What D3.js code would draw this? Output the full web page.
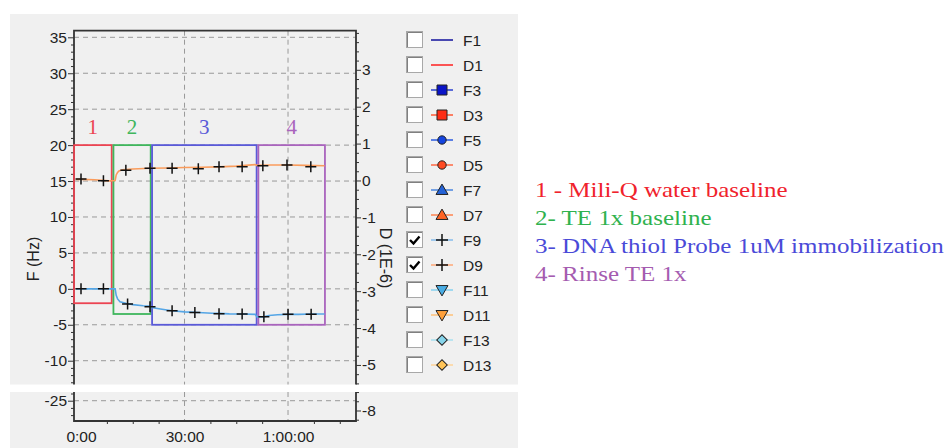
<!DOCTYPE html>
<html>
<head>
<meta charset="utf-8">
<script src="https://cdn.jsdelivr.net/npm/d3@7/dist/d3.min.js"></script>
<style>
  body { margin: 0; background: #fff; }
  svg { display: block; font-family: "Liberation Sans", Arial, sans-serif; }
</style>
</head>
<body>
<svg id="chart" width="949" height="448"></svg>
<script>
// ---- data (time in minutes) ----
const f9Times  = [-1.5, 0, 5, 9.9, 10.2, 10.6, 11.3, 13, 15, 18, 20, 20.5, 23, 26.4, 30, 34, 38, 40, 43, 46.7, 50.5, 51, 53, 54.5, 57, 60, 63, 66.7, 70.6];
const f9Values = [0, 0, 0, 0, -0.9, -1.4, -1.8, -2.0, -2.2, -2.35, -2.4, -2.6, -2.8, -3.05, -3.2, -3.3, -3.4, -3.42, -3.48, -3.5, -3.55, -3.9, -3.9, -3.7, -3.6, -3.55, -3.55, -3.5, -3.5];

const d9Times  = [-1.5, 0, 4, 8, 9.9, 10.2, 10.6, 11, 12, 15, 20, 25, 30, 35, 40, 45, 50.4, 51, 55, 60, 65, 70.6];
const d9Values = [0.03, 0.03, 0.02, -0.01, 0.0, 0.15, 0.22, 0.26, 0.29, 0.31, 0.33, 0.34, 0.35, 0.36, 0.37, 0.39, 0.43, 0.41, 0.42, 0.42, 0.41, 0.4];

const f9MarkTimes  = [0, 6.5, 13.5, 20, 26.4, 33, 40, 46.7, 53, 60, 66.7];
const f9MarkValues = [0, 0, -2.1, -2.5, -3.05, -3.3, -3.45, -3.5, -3.9, -3.55, -3.55];
const d9MarkTimes  = [0, 6.5, 13, 20, 26.4, 34, 40, 46.7, 52.7, 59.7, 66.6];
const d9MarkValues = [0.04, -0.01, 0.28, 0.33, 0.33, 0.32, 0.37, 0.37, 0.4, 0.42, 0.37];

// measurement steps (boxes)
const regionStart  = [-2.03, 9.4, 20.6, 51.4];
const regionEnd    = [8.9, 20.2, 50.9, 70.7];
const regionTop    = [20, 20, 20, 20];
const regionBottom = [-2, -3.5, -5, -5];
const regionLabels = ['1', '2', '3', '4'];
const regionColors = ['#ec4452', '#3fb65c', '#5a5ad8', '#a964bd'];

const noteTexts = ['1 - Mili-Q water baseline', '2- TE 1x baseline',
                   '3- DNA thiol Probe 1uM immobilization', '4- Rinse TE 1x'];
const noteColors = ['#f0222c', '#2fb24e', '#4a4ad8', '#a55cb0'];

const legendNames   = ['F1', 'D1', 'F3', 'D3', 'F5', 'D5', 'F7', 'D7', 'F9', 'D9', 'F11', 'D11', 'F13', 'D13'];
const legendChecked = [false, false, false, false, false, false, false, false, true, true, false, false, false, false];
const legendShapes  = ['none', 'none', 'square', 'square', 'circle', 'circle', 'tri', 'tri', 'plus', 'plus', 'tridown', 'tridown', 'diamond', 'diamond'];
const legendLine    = ['#10109c', '#ff2020', '#2a40d0', '#ff5a36', '#2a5ae0', '#ff6a44', '#4a86e0', '#ff8450', '#86bcec', '#ffa878', '#86d2f0', '#ffc27a', '#a8e0f0', '#ffd49a'];
const legendFill    = ['none', 'none', '#0a14c8', '#ff2c14', '#1444e0', '#ff4a22', '#2462d6', '#ff6424', 'none', 'none', '#48ace4', '#ffa03a', '#86d4ea', '#ffc458'];

const xTickValues = [0, 30, 60];
const xTickLabels = ['0:00', '30:00', '1:00:00'];
const fTicksTop = [35, 30, 25, 20, 15, 10, 5, 0, -5, -10];
const fTicksBottom = [-25];
const dTicksTop = [3, 2, 1, 0, -1, -2, -3, -4, -5];
const dTicksBottom = [-8];

// ---- layout ----
const svg = d3.select('#chart');
const left = 74, right = 356;
const top1 = 30.7, bot1 = 384.5;   // upper panel (cut at bottom)
const top2 = 392, bot2 = 421;      // lower panel (cut at top)
const tickFont = '"Liberation Sans", Arial, sans-serif';

const x = d3.scaleLinear().domain([-2.03, 79.7]).range([left, right]);
const yTop = d3.scaleLinear().domain([-13.31, 35.92]).range([bot1, top1]);
const dTop = d3.scaleLinear().domain([-5.53, 4.06]).range([bot1, top1]);
const yBot = d3.scaleLinear().domain([-27.82, -23.79]).range([bot2, top2]);
const dBot = d3.scaleLinear().domain([-8.285, -7.499]).range([bot2, top2]);

// grey panels
svg.append('rect').attr('x', 10).attr('y', 14).attr('width', 508).attr('height', bot1 - 14).attr('fill', '#f0f0f0');
svg.append('rect').attr('x', 10).attr('y', top2).attr('width', 508).attr('height', 448 - top2).attr('fill', '#f0f0f0');

function panel(yF, yD, fMajors, dMajors, y0, y1) {
  const g = svg.append('g');
  // grid
  g.selectAll('line.hg').data(fMajors).join('line')
    .attr('x1', left).attr('x2', right)
    .attr('y1', d => yF(d)).attr('y2', d => yF(d))
    .attr('stroke', '#999').attr('stroke-dasharray', '5,4');
  g.selectAll('line.vg').data(xTickValues.filter(d => d > 0)).join('line')
    .attr('x1', d => x(d)).attr('x2', d => x(d))
    .attr('y1', y0).attr('y2', y1)
    .attr('stroke', '#999').attr('stroke-dasharray', '5,4');

  const fd = yF.domain(), dd = yD.domain();
  const fMinor = d3.range(Math.ceil(fd[0]), fd[1], 1).filter(v => !fMajors.includes(v));
  const dMinor = d3.range(Math.ceil(dd[0] * 4) / 4, dd[1], 0.25).filter(v => !dMajors.includes(v));

  const ax = (sel) => sel.call(s => s.select('.domain').remove())
    .call(s => s.selectAll('line').attr('stroke', '#333'))
    .call(s => s.selectAll('text').attr('fill', '#222').attr('font-size', '15.5px').attr('font-family', tickFont));

  g.append('g').attr('transform', `translate(${left},0)`)
    .call(d3.axisLeft(yF).tickValues(fMinor).tickSize(3).tickFormat('')).call(ax);
  g.append('g').attr('transform', `translate(${left},0)`)
    .call(d3.axisLeft(yF).tickValues(fMajors).tickSize(6).tickPadding(1).tickFormat(d => String(d))).call(ax);
  g.append('g').attr('transform', `translate(${right},0)`)
    .call(d3.axisRight(yD).tickValues(dMinor).tickSize(3).tickFormat('')).call(ax);
  g.append('g').attr('transform', `translate(${right},0)`)
    .call(d3.axisRight(yD).tickValues(dMajors).tickSize(5).tickPadding(1).tickFormat(d => String(d))).call(ax);
  return g;
}

panel(yTop, dTop, fTicksTop, dTicksTop, top1, bot1);
panel(yBot, dBot, fTicksBottom, dTicksBottom, top2, bot2);

// x axis
const minorX = d3.range(7.5, 79, 7.5).filter(v => !xTickValues.includes(v));
svg.append('g').attr('transform', `translate(0,${bot2})`)
  .call(d3.axisBottom(x).tickValues(minorX).tickSize(3).tickFormat(''))
  .call(s => s.select('.domain').remove())
  .call(s => s.selectAll('line').attr('stroke', '#333'));
svg.append('g').attr('transform', `translate(0,${bot2})`)
  .call(d3.axisBottom(x).tickValues(xTickValues).tickSize(0).tickPadding(10)
    .tickFormat((d, i) => xTickLabels[i]))
  .call(s => s.select('.domain').remove())
  .call(s => s.selectAll('text').attr('fill', '#222').attr('font-size', '15.5px').attr('font-family', tickFont));

// frames
svg.append('path').attr('d', `M${left},${bot1}V${top1}H${right}V${bot1}`)
  .attr('fill', 'none').attr('stroke', '#333').attr('stroke-width', 1.8);
svg.append('path').attr('d', `M${left},${top2}V${bot2}H${right}V${top2}`)
  .attr('fill', 'none').attr('stroke', '#333').attr('stroke-width', 1.8);

// axis titles
svg.append('text').attr('transform', 'translate(39,259) rotate(-90)')
  .attr('text-anchor', 'middle').attr('font-size', '16px').attr('fill', '#222').text('F (Hz)');
svg.append('text').attr('transform', 'translate(380,258) rotate(90)')
  .attr('text-anchor', 'middle').attr('font-size', '16px').attr('fill', '#222').text('D (1E-6)');

// step boxes
const boxes = svg.append('g');
regionStart.forEach((s, i) => {
  boxes.append('rect')
    .attr('x', x(s)).attr('y', yTop(regionTop[i]))
    .attr('width', x(regionEnd[i]) - x(s))
    .attr('height', yTop(regionBottom[i]) - yTop(regionTop[i]))
    .attr('fill', 'none').attr('stroke', regionColors[i]).attr('stroke-width', 1.8);
  boxes.append('text')
    .attr('x', (x(s) + x(regionEnd[i])) / 2).attr('y', 133.5)
    .attr('text-anchor', 'middle')
    .attr('font-family', '"Liberation Serif", "Times New Roman", serif')
    .attr('font-size', '21px').attr('fill', regionColors[i])
    .text(regionLabels[i]);
});

// data lines
const lineF = d3.line().x(d => x(d[0])).y(d => yTop(d[1]));
const lineD = d3.line().x(d => x(d[0])).y(d => dTop(d[1]));
svg.append('path').datum(d9Times.map((t, i) => [t, d9Values[i]]))
  .attr('d', lineD).attr('fill', 'none').attr('stroke', '#fa9c5c').attr('stroke-width', 1.6);
svg.append('path').datum(f9Times.map((t, i) => [t, f9Values[i]]))
  .attr('d', lineF).attr('fill', 'none').attr('stroke', '#55a6e6').attr('stroke-width', 1.6);

function plus(g, cx, cy, r) {
  g.append('path').attr('d', `M${cx - r},${cy}H${cx + r}M${cx},${cy - r}V${cy + r}`)
    .attr('stroke', '#111').attr('stroke-width', 1.5).attr('fill', 'none');
}
const marks = svg.append('g');
d9MarkTimes.forEach((t, i) => plus(marks, x(t), dTop(d9MarkValues[i]), 5.5));
f9MarkTimes.forEach((t, i) => plus(marks, x(t), yTop(f9MarkValues[i]), 5.5));

// legend
const lg = svg.append('g');
legendNames.forEach((name, i) => {
  const cy = 40 + i * 25;
  const row = lg.append('g');
  row.append('rect').attr('x', 406.5).attr('y', cy - 8.5).attr('width', 16).attr('height', 16)
    .attr('fill', '#fff').attr('stroke', '#a8a8a8');
  row.append('path').attr('d', `M407.5,${cy + 7}V${cy - 7.5}H422`)
    .attr('fill', 'none').attr('stroke', '#808080');
  if (legendChecked[i]) {
    row.append('path').attr('d', `M410,${cy}L413.5,${cy + 3.5}L419.5,${cy - 3.5}`)
      .attr('fill', 'none').attr('stroke', '#000').attr('stroke-width', 2.4);
  }
  row.append('line').attr('x1', 431).attr('x2', 453).attr('y1', cy).attr('y2', cy)
    .attr('stroke', legendLine[i]).attr('stroke-width', 1.5);
  const shape = legendShapes[i];
  if (shape === 'plus') {
    plus(row, 442, cy, 6);
  } else if (shape !== 'none') {
    let sym = d3.symbolSquare, size = 100, rot = 0;
    if (shape === 'circle') { sym = d3.symbolCircle; size = 55; }
    if (shape === 'tri') { sym = d3.symbolTriangle; size = 62; }
    if (shape === 'tridown') { sym = d3.symbolTriangle; size = 62; rot = 180; }
    if (shape === 'diamond') { sym = d3.symbolSquare; size = 56; rot = 45; }
    row.append('path').attr('d', d3.symbol(sym, size)())
      .attr('transform', `translate(442,${cy + (shape === 'tri' ? 1 : shape === 'tridown' ? -1 : 0)}) rotate(${rot})`)
      .attr('fill', legendFill[i]).attr('stroke', '#222').attr('stroke-width', 1);
  }
  row.append('text').attr('x', 463).attr('y', cy).attr('dy', '0.36em')
    .attr('font-size', '15.5px').attr('fill', '#222').text(name);
});

// notes on the right (text in the source is drawn wider than normal)
noteTexts.forEach((t, i) => {
  svg.append('text').attr('transform', `translate(535,${197.3 + i * 27.9}) scale(1.19,1)`)
    .attr('font-family', '"Liberation Serif", "Times New Roman", serif')
    .attr('font-size', '21px').attr('fill', noteColors[i]).text(t);
});
</script>
</body>
</html>
